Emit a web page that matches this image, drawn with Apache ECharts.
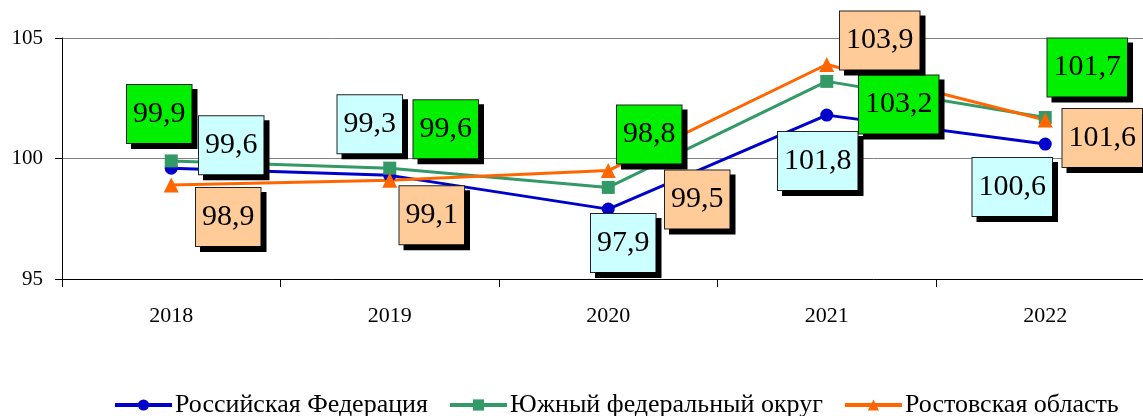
<!DOCTYPE html>
<html>
<head>
<meta charset="utf-8">
<script src="https://cdn.jsdelivr.net/npm/echarts@6/dist/echarts.min.js"></script>
<style>
  html, body { margin: 0; padding: 0; background: #fff; }
</style>
</head>
<body>
<div id="echarts" style="width: 1143px; height: 416px"></div>
<script>
const years = ["2018", "2019", "2020", "2021", "2022"];
const russia = [99.6, 99.3, 97.9, 101.8, 100.6];
const southDistrict = [99.9, 99.6, 98.8, 103.2, 101.7];
const rostov = [98.9, 99.1, 99.5, 103.9, 101.6];
const seriesNames = ["Российская Федерация", "Южный федеральный округ", "Ростовская область"];

// where each value box sits relative to its point (px)
const russiaOffsets = [[60, -23], [-20, -51], [15, 34], [-9, 46], [-33, 43]];
const southOffsets = [[-12, -47], [56, -39], [41, -53], [72, 23], [42, -50]];
const rostovOffsets = [[57, 32], [42, 35], [89, 29], [53, -24], [57, 18]];

const serif = "'Liberation Serif', 'Times New Roman', serif";

function boxLabel(bg) {
  return {
    show: true,
    position: "inside",
    formatter: (p) => p.value.toFixed(1).replace(".", ","),
    fontFamily: serif,
    fontSize: 30,
    color: "#000",
    backgroundColor: bg,
    borderColor: "#222",
    borderWidth: 1,
    padding: [0, 6],
    lineHeight: 58,
    shadowColor: "#000",
    shadowBlur: 0,
    shadowOffsetX: 5,
    shadowOffsetY: 5
  };
}

function withOffsets(values, offsets) {
  return values.map((v, i) => ({ value: v, label: { offset: offsets[i] } }));
}

let option = {
  animation: false,
  grid: {
    left: 62,
    top: 38,
    width: 1092.5,
    height: 241,
    outerBoundsMode: "none"
  },
  legend: {
    top: 387,
    left: 108,
    itemWidth: 57,
    itemHeight: 14,
    itemGap: 20,
    lineStyle: { width: 4 },
    textStyle: { fontFamily: serif, fontSize: 26, color: "#000", padding: [0, 0, 0, -2] },
    data: seriesNames
  },
  xAxis: {
    type: "category",
    data: years,
    axisLine: { lineStyle: { color: "#000", width: 1 } },
    axisTick: { show: true, length: 8, lineStyle: { color: "#000" } },
    axisLabel: { fontFamily: serif, fontSize: 22, color: "#000", margin: 26 }
  },
  yAxis: {
    type: "value",
    min: 95,
    max: 105,
    interval: 5,
    axisLine: { show: true, lineStyle: { color: "#000", width: 1 } },
    axisTick: { show: true, length: 7, lineStyle: { color: "#000" } },
    axisLabel: { fontFamily: serif, fontSize: 21, color: "#000", margin: 19 },
    splitLine: { lineStyle: { color: "#808080", width: 1 } }
  },
  series: [
    {
      name: seriesNames[0],
      type: "line",
      data: withOffsets(russia, russiaOffsets),
      symbol: "circle",
      symbolSize: 13,
      lineStyle: { color: "#0000cc", width: 3 },
      itemStyle: { color: "#0000cc" },
      label: boxLabel("#ccffff")
    },
    {
      name: seriesNames[1],
      type: "line",
      data: withOffsets(southDistrict, southOffsets),
      symbol: "rect",
      symbolSize: 13,
      lineStyle: { color: "#339966", width: 3 },
      itemStyle: { color: "#339966" },
      label: boxLabel("#00f000")
    },
    {
      name: seriesNames[2],
      type: "line",
      data: withOffsets(rostov, rostovOffsets),
      symbol: "triangle",
      symbolSize: 15,
      lineStyle: { color: "#ff6600", width: 3 },
      itemStyle: { color: "#ff6600" },
      label: boxLabel("#ffcc99")
    }
  ]
};

let myChart = echarts.init(document.getElementById("echarts"));
myChart.setOption(option);
</script>
</body>
</html>
